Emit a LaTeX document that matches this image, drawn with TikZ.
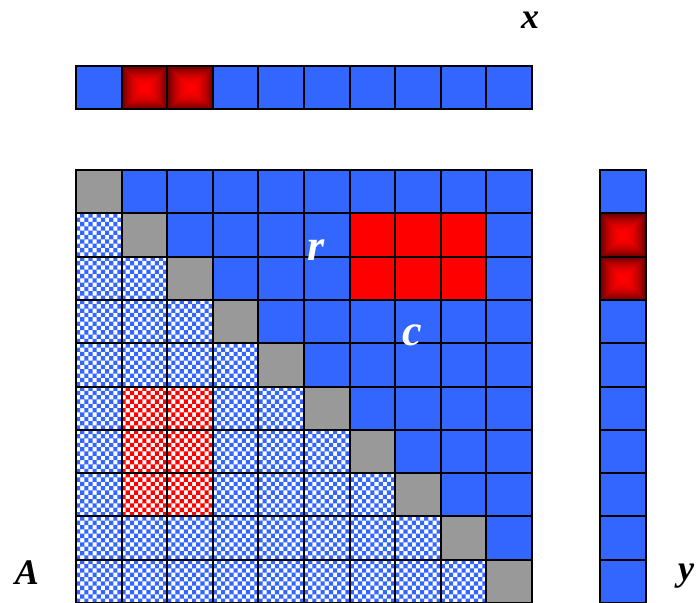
\documentclass[tikz,border=0pt]{standalone}
\usepackage{fontspec}
\setmainfont{Liberation Serif}
\definecolor{cellblue}{HTML}{3366FF}
\definecolor{cellgray}{HTML}{999999}
\definecolor{cellred}{HTML}{FF0000}

% square glow: bright red centre, dark red edges, from max(|x|,|y|)
\pgfdeclarefunctionalshading{glow}{\pgfpoint{-25bp}{-25bp}}{\pgfpoint{25bp}{25bp}}{}{
  abs exch abs 2 copy lt {exch} if pop
  25 div dup mul -0.6 mul 1 add 0 0
}

% one checkered cell: left, top, colour
\newcommand{\checkcell}[3]{%
  \begin{scope}
    \clip (#1,#2) rectangle ++(\cw,\ch);
    \fill[white] (#1,#2) rectangle ++(\cw,\ch);
    \fill[#3] \foreach \a in {0,2,...,10} { \foreach \b in {0,2,...,8} {
        ({#1+(\a+1)*\sqw},{#2+\b*\sqh}) rectangle ++(\sqw,\sqh)
        ({#1+\a*\sqw},{#2+(\b+1)*\sqh}) rectangle ++(\sqw,\sqh) } };
  \end{scope}}

\tikzset{
  cellbox/.style={draw=black, line width=2pt},
  bigletter/.style={font=\fontsize{36}{40}\selectfont\bfseries\itshape},
  cellletter/.style={font=\fontsize{44}{48}\selectfont\bfseries\itshape, text=white},
}

\begin{document}
\begin{tikzpicture}[x=1pt,y=-1pt]
  \useasboundingbox (0,0) rectangle (698,602);

  \pgfmathsetmacro{\cw}{45.6}  % cell width
  \pgfmathsetmacro{\ch}{43.3}  % cell height
  \pgfmathsetmacro{\sqw}{\cw/11} % checker square
  \pgfmathsetmacro{\sqh}{\ch/10}
  \pgfmathsetmacro{\mx}{76}    % left edge of A and x
  \pgfmathsetmacro{\my}{170}   % top edge of A and y
  \pgfmathsetmacro{\vx}{600}   % left edge of y
  \pgfmathsetmacro{\vy}{66}    % top edge of x

  % ---------- Matrix A ----------
  % 0 diagonal, 1 upper, 2 upper block, 3 lower, 4 lower block
  \foreach \i in {0,...,9} {
    \foreach \j in {0,...,9} {
      \pgfmathsetmacro{\xa}{\mx+\j*\cw}
      \pgfmathsetmacro{\ya}{\my+\i*\ch}
      \pgfmathtruncatemacro{\kind}{(\i==\j) ? 0 : ((\j>\i) ? ((\i>=1 && \i<=2 && \j>=6 && \j<=8) ? 2 : 1) : ((\i>=5 && \i<=7 && \j>=1 && \j<=2) ? 4 : 3))}
      \ifcase\kind
        \fill[cellgray] (\xa,\ya) rectangle ++(\cw,\ch);
      \or
        \fill[cellblue] (\xa,\ya) rectangle ++(\cw,\ch);
      \or
        \fill[cellred] (\xa,\ya) rectangle ++(\cw,\ch);
      \or
        \checkcell{\xa}{\ya}{cellblue}
      \or
        \checkcell{\xa}{\ya}{cellred}
      \fi
    }
  }
  \foreach \i in {0,...,9} {
    \foreach \j in {0,...,9} {
      \draw[cellbox] ({\mx+\j*\cw},{\my+\i*\ch}) rectangle ++(\cw,\ch);
    }
  }

  % ---------- vector x (top) ----------
  \foreach \j in {0,...,9} {
    \pgfmathsetmacro{\xa}{\mx+\j*\cw}
    \ifnum\j=1 \shade[shading=glow] (\xa,\vy) rectangle ++(\cw,\ch);
    \else\ifnum\j=2 \shade[shading=glow] (\xa,\vy) rectangle ++(\cw,\ch);
    \else \fill[cellblue] (\xa,\vy) rectangle ++(\cw,\ch);
    \fi\fi
    \draw[cellbox] (\xa,\vy) rectangle ++(\cw,\ch);
  }

  % ---------- vector y (right) ----------
  \foreach \i in {0,...,9} {
    \pgfmathsetmacro{\ya}{\my+\i*\ch}
    \ifnum\i=1 \shade[shading=glow] (\vx,\ya) rectangle ++(\cw,\ch);
    \else\ifnum\i=2 \shade[shading=glow] (\vx,\ya) rectangle ++(\cw,\ch);
    \else \fill[cellblue] (\vx,\ya) rectangle ++(\cw,\ch);
    \fi\fi
    \draw[cellbox] (\vx,\ya) rectangle ++(\cw,\ch);
  }

  % ---------- labels ----------
  \node[bigletter] (xlab) at (530,20) {x};
  \node[bigletter] (Alab) at (27,573) {A};
  \node[bigletter] (ylab) at (686,576) {y};
  \node[cellletter] (rlab) at (316,250) {r};
  \node[cellletter] (clab) at (412,335) {c};
\end{tikzpicture}
\end{document}
